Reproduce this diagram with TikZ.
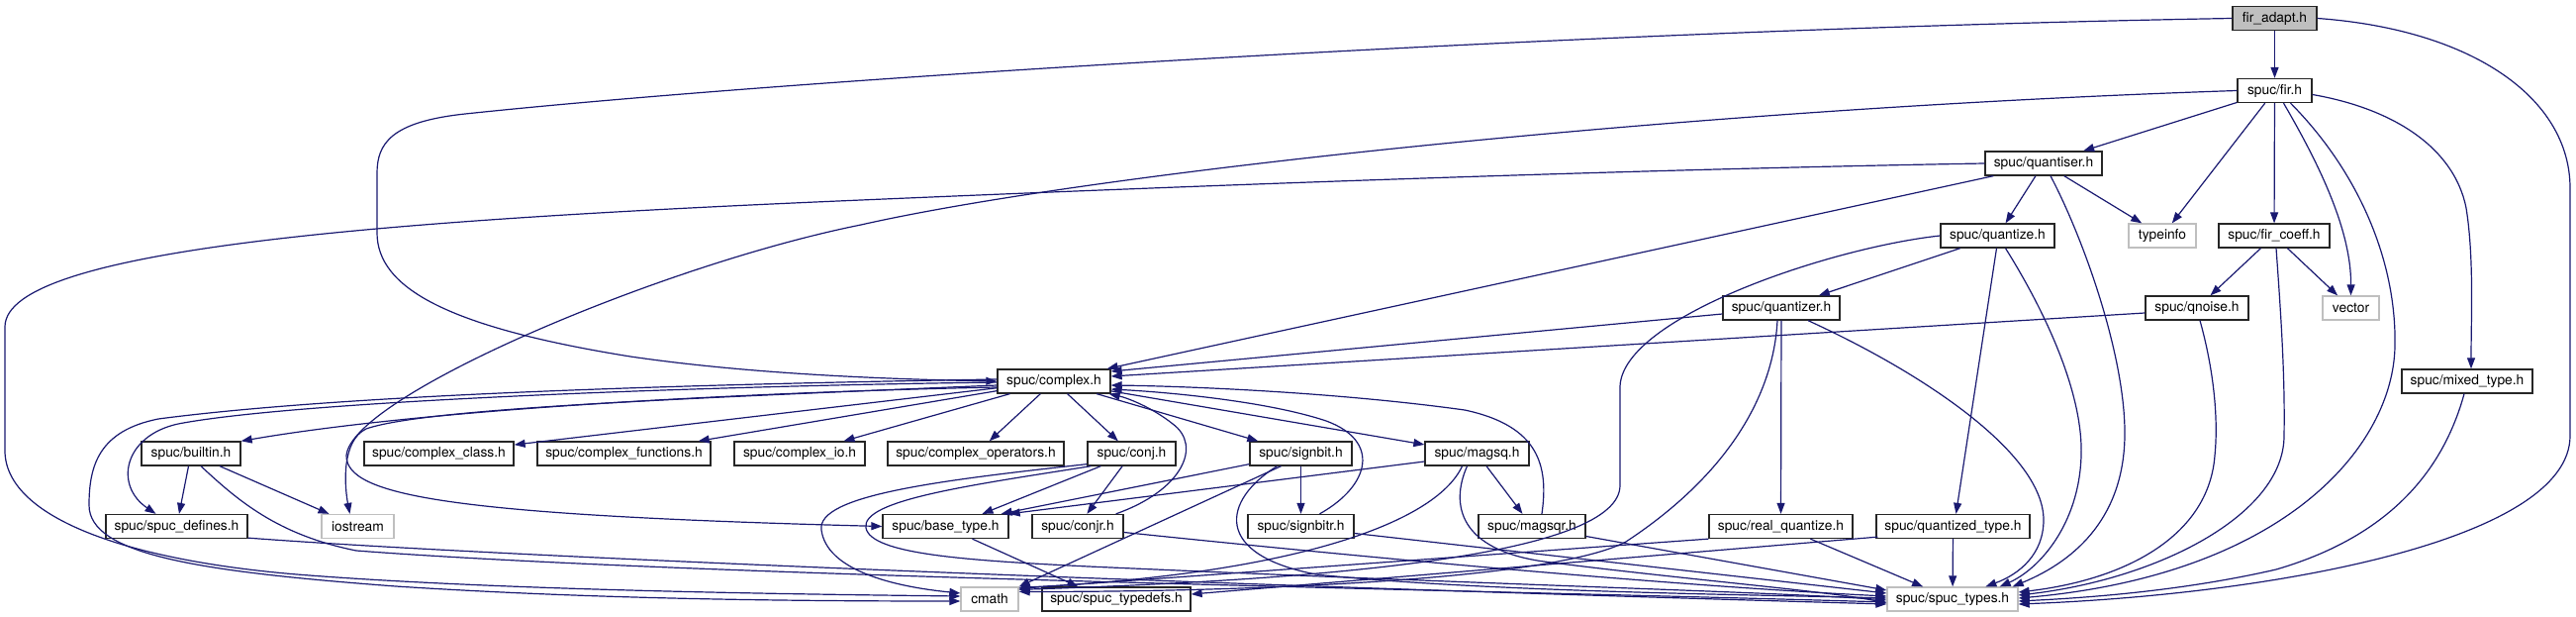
\documentclass[tikz,border=0pt]{standalone}
\usepackage{fontspec}
\setmainfont{TeX Gyre Heros}
\usetikzlibrary{arrows.meta,calc}
\definecolor{edgeblue}{HTML}{191970}
\definecolor{sysgray}{HTML}{BFBFBF}
\begin{document}
\begin{tikzpicture}[x=1pt,y=-1pt,
  file/.style={draw=black!85, line width=1.3pt, fill=white, minimum height=24pt, inner xsep=3pt, inner ysep=0pt, font=\fontsize{13.8}{16}\selectfont, text=black},
  sys/.style={file, draw=sysgray},
  top/.style={file, fill=sysgray},
  edge/.style={draw=edgeblue, line width=1.2pt, -{Triangle[length=11pt,width=8pt]}}]
\useasboundingbox (0,0) rectangle (2603,623);
% nodes
\node[top, minimum width=85pt]  (fa)     at (2298.5,18.5) {fir\_adapt.h};
\node[file, minimum width=75pt] (fir)    at (2298.5,91.5) {spuc/fir.h};
\node[file, minimum width=118pt] (qser)  at (2065,165) {spuc/quantiser.h};
\node[file, minimum width=115pt] (qze)   at (2018.5,238) {spuc/quantize.h};
\node[sys, minimum width=68pt]  (tinfo)  at (2185,238) {typeinfo};
\node[file, minimum width=112pt] (fcoeff) at (2298,238) {spuc/fir\_coeff.h};
\node[file, minimum width=118pt] (qzer)  at (1800,311) {spuc/quantizer.h};
\node[file, minimum width=104pt] (qnoise) at (2220,311) {spuc/qnoise.h};
\node[sys, minimum width=57pt]  (vec)    at (2375.5,311) {vector};
\node[file, minimum width=132pt] (mixed) at (2493,385) {spuc/mixed\_type.h};
\node[file, minimum width=114pt] (cplx)  at (1065,385) {spuc/complex.h};
\node[file, minimum width=100pt] (bltin) at (193,458) {spuc/builtin.h};
\node[file, minimum width=151pt] (cclass) at (443.5,458) {spuc/complex\_class.h};
\node[file, minimum width=175pt] (cfunc) at (630.5,458) {spuc/complex\_functions.h};
\node[file, minimum width=132pt] (cio)   at (808,458) {spuc/complex\_io.h};
\node[file, minimum width=178pt] (cops)  at (986,458) {spuc/complex\_operators.h};
\node[file, minimum width=89pt]  (conj)  at (1143.5,458) {spuc/conj.h};
\node[file, minimum width=103pt] (sbit)  at (1314.5,458) {spuc/signbit.h};
\node[file, minimum width=105pt] (msq)   at (1492.5,458) {spuc/magsq.h};
\node[file, minimum width=143pt] (sdef)  at (178.5,531.5) {spuc/spuc\_defines.h};
\node[sys, minimum width=73pt]   (iostr) at (361.5,531.5) {iostream};
\node[file, minimum width=127pt] (btype) at (955.5,531.5) {spuc/base\_type.h};
\node[file, minimum width=92pt]  (conjr) at (1089,531.5) {spuc/conjr.h};
\node[file, minimum width=107pt] (sbitr) at (1314.5,531.5) {spuc/signbitr.h};
\node[file, minimum width=108pt] (msqr)  at (1548,531.5) {spuc/magsqr.h};
\node[file, minimum width=145pt] (rq)    at (1799.5,531.5) {spuc/real\_quantize.h};
\node[file, minimum width=155pt] (qt)    at (1973.5,531.5) {spuc/quantized\_type.h};
\node[sys, minimum width=58pt]   (cmath) at (1000,605) {cmath};
\node[file, minimum width=150pt] (tdefs) at (1128,605) {spuc/spuc\_typedefs.h};
\node[sys, minimum width=132pt]  (stypes) at (1973,605) {spuc/spuc\_types.h};

% fir_adapt.h
\draw[edge] (fa) -- (fir);
\draw[edge] (fa.west) .. controls (1600,30) and (800,80) .. (470,115) .. controls (395,123) and (381,145) .. (381,175) -- (381,235) .. controls (381,290) and (450,330) .. (637,360) .. controls (760,378) and (900,383) .. (cplx.west);
\draw[edge] (fa.east) .. controls (2500,30) and (2597,100) .. (2597,190) -- (2597,440) .. controls (2597,545) and (2300,600) .. ($(stypes.east)+(0,5)$);

% fir.h
\draw[edge] (fir) -- (qser);
\draw[edge] (fir) -- (tinfo);
\draw[edge] (fir) -- (fcoeff);
\draw[edge] ($(fir.south)+(9,0)$) .. controls (2340,160) and (2376,230) .. (vec.north);
\draw[edge] ($(fir.south)+(16,0)$) .. controls (2380,170) and (2422,260) .. (2420,350) .. controls (2418,450) and (2310,580) .. ($(stypes.east)+(0,-1)$);
\draw[edge] ($(fir.east)+(0,4)$) .. controls (2420,110) and (2480,150) .. (2492,210) .. controls (2500,260) and (2497,320) .. ($(mixed.north)+(4,0)$);
\draw[edge] (fir.west) .. controls (1700,110) and (1100,175) .. (870,227) .. controls (670,267) and (355,400) .. (350,460) .. controls (350,500) and (450,520) .. (btype.west);

% quantiser.h
\draw[edge] (qser.west) .. controls (1600,172) and (1150,190) .. (870,202) .. controls (400,222) and (5,250) .. (5,330) -- (5,455) .. controls (5,520) and (120,565) .. (300,580) .. controls (500,596) and (800,600) .. ($(cmath.west)+(0,-3)$);
\draw[edge] ($(qser.south west)+(9,0)$) -- ($(cplx.north east)+(-4,0)$);
\draw[edge] (qser) -- (qze);
\draw[edge] (qser) -- (tinfo);
\draw[edge] ($(qser.south)+(7,0)$) .. controls (2105,240) and (2148,360) .. (2147,440) .. controls (2146,520) and (2100,565) .. ($(stypes.north east)+(-6,0)$);

% quantize.h
\draw[edge] (qze) -- (qzer);
\draw[edge] (qze.west) .. controls (1850,250) and (1640,320) .. (1637,390) -- (1637,490) .. controls (1637,560) and (1350,585) .. ($(cmath.north east)+(0,3)$);
\draw[edge] ($(qze.south)+(-1,0)$) -- ($(qt.north)+(3,0)$);
\draw[edge] ($(qze.south)+(8,0)$) .. controls (2070,320) and (2105,400) .. (2103,460) .. controls (2101,530) and (2060,575) .. ($(stypes.north east)+(-19,0)$);

% fir_coeff.h
\draw[edge] (fcoeff) -- (qnoise);
\draw[edge] (fcoeff) -- (vec);
\draw[edge] ($(fcoeff.south)+(2,0)$) .. controls (2305,320) and (2309,380) .. (2308,440) .. controls (2308,520) and (2180,585) .. ($(stypes.east)+(0,-4)$);

% quantizer.h
\draw[edge] ($(qzer.west)+(0,6)$) -- ($(cplx.east)+(0,-10)$);
\draw[edge] (qzer) -- (rq);
\draw[edge] ($(qzer.south)+(27,0)$) .. controls (1950,380) and (2065,460) .. (2065,525) .. controls (2065,560) and (2040,580) .. ($(stypes.north west)+(100,0)$);
\draw[edge] ($(qzer.south)+(-4,0)$) .. controls (1792,400) and (1745,480) .. (1643,547) .. controls (1560,590) and (1200,598) .. ($(cmath.north east)+(0,5)$);

% qnoise.h
\draw[edge] ($(qnoise.west)+(0,5)$) -- ($(cplx.east)+(0,-5)$);
\draw[edge] ($(qnoise.south)+(3,0)$) .. controls (2236,370) and (2242,420) .. (2238,460) .. controls (2232,540) and (2150,585) .. ($(stypes.east)+(0,-7)$);

% mixed_type.h
\draw[edge] ($(mixed.south)+(-3,0)$) .. controls (2470,470) and (2420,540) .. (2300,575) .. controls (2200,598) and (2100,604) .. ($(stypes.east)+(0,2)$);

% complex.h
\draw[edge] (cplx) -- (cclass);
\draw[edge] (cplx) -- (cfunc);
\draw[edge] (cplx) -- (cio);
\draw[edge] (cplx) -- (cops);
\draw[edge] (cplx) -- (conj);
\draw[edge] (cplx) -- (sbit);
\draw[edge] (cplx) -- (msq);
\draw[edge] ($(cplx.west)+(0,6)$) .. controls (800,395) and (450,410) .. (bltin.north east);
\draw[edge] ($(cplx.west)+(0,1)$) .. controls (700,390) and (300,405) .. (180,428) .. controls (125,440) and (115,490) .. ($(sdef.north)+(-21,0)$);
\draw[edge] ($(cplx.west)+(0,-2)$) .. controls (700,388) and (350,398) .. (160,423) .. controls (100,435) and (90,470) .. (90,510) .. controls (90,560) and (200,577) .. (400,592) .. controls (600,605) and (800,607) .. ($(cmath.west)+(0,2)$);
\draw[edge] ($(cplx.west)+(0,4)$) .. controls (700,402) and (430,412) .. (370,433) .. controls (345,445) and (348,490) .. ($(iostr.north)+(-8,0)$);

% back edges into complex.h
\draw[edge] ($(msqr.north)+(10,0)$) .. controls (1565,470) and (1555,430) .. (1480,414) .. controls (1350,396) and (1200,390) .. ($(cplx.east)+(0,4)$);
\draw[edge] ($(sbitr.north)+(19,0)$) .. controls (1385,490) and (1395,445) .. (1340,425) .. controls (1280,405) and (1180,396) .. ($(cplx.east)+(0,8)$);
\draw[edge] ($(conjr.north east)+(-8,0)$) .. controls (1195,495) and (1215,450) .. (1185,428) .. controls (1165,412) and (1140,402) .. ($(cplx.south east)+(-2,0)$);

% conj.h
\draw[edge] (conj) -- (conjr);
\draw[edge] ($(conj.south west)+(14,0)$) -- ($(btype.north)+(37,0)$);
\draw[edge] ($(conj.south west)+(0,-2)$) .. controls (950,485) and (825,500) .. (830,535) .. controls (835,575) and (900,592) .. ($(cmath.west)+(0,-6)$);
\draw[edge] ($(conj.south west)+(4,0)$) .. controls (980,490) and (870,505) .. (875,533) .. controls (880,560) and (980,566) .. (1100,572) .. controls (1500,590) and (1800,598) .. ($(stypes.west)+(0,1)$);

% signbit.h
\draw[edge] (sbit) -- (sbitr);
\draw[edge] ($(sbit.south west)+(0,-2)$) -- ($(btype.north east)+(-8,0)$);
\draw[edge] ($(sbit.south)+(-20,0)$) -- (cmath.north east);
\draw[edge] ($(sbit.south)+(-24,0)$) .. controls (1235,505) and (1225,560) .. (1330,580) .. controls (1500,598) and (1800,601) .. ($(stypes.west)+(0,-1)$);

% magsq.h
\draw[edge] (msq) -- (msqr);
\draw[edge] ($(msq.west)+(0,8)$) -- (btype.north east);
\draw[edge] ($(msq.south)+(-15,0)$) .. controls (1450,530) and (1300,580) .. ($(cmath.north east)+(0,1)$);
\draw[edge] ($(msq.south)+(-10,0)$) .. controls (1465,510) and (1475,555) .. (1560,567) .. controls (1700,585) and (1850,597) .. ($(stypes.west)+(0,4)$);

% rank-4 headers
\draw[edge] ($(conjr.east)+(0,6)$) .. controls (1400,565) and (1700,592) .. ($(stypes.west)+(0,-3)$);
\draw[edge] ($(sbitr.east)+(0,7)$) -- ($(stypes.west)+(0,-6)$);
\draw[edge] ($(msqr.east)+(0,10)$) -- ($(stypes.west)+(0,-9)$);
\draw[edge] ($(btype.south)+(27,0)$) -- ($(tdefs.north west)+(37,0)$);

% builtin.h and spuc_defines.h
\draw[edge] (bltin) -- (sdef);
\draw[edge] (bltin) -- (iostr);
\draw[edge] ($(bltin.south)+(10,0)$) .. controls (240,505) and (280,540) .. (360,556) .. controls (700,582) and (1500,596) .. ($(stypes.west)+(0,3)$);
\draw[edge] ($(sdef.south east)+(0,-1)$) .. controls (500,562) and (1200,590) .. ($(stypes.west)+(0,5)$);

% real_quantize.h and quantized_type.h
\draw[edge] (rq) -- (stypes);
\draw[edge] (rq.south west) -- ($(cmath.north east)+(0,2)$);
\draw[edge] (qt) -- (stypes);
\draw[edge] ($(qt.south west)+(2,-2)$) -- ($(tdefs.east)+(0,-5)$);
\end{tikzpicture}
\end{document}
